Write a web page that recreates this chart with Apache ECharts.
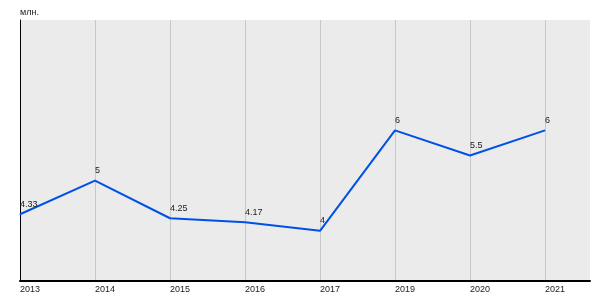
<!DOCTYPE html>
<html><head><meta charset="utf-8">
<script src="https://cdn.jsdelivr.net/npm/echarts@6/dist/echarts.min.js"></script>
<style>html,body{margin:0;padding:0;background:#fff}#c{width:600px;height:300px}</style>
</head><body><div id="c"></div>
<script>
const categories = ['2013','2014','2015','2016','2017','2019','2020','2021'];
const values = [4.33, 5, 4.25, 4.17, 4, 6, 5.5, 6];
const unitLabel = 'млн.';

const chart = echarts.init(document.getElementById('c'), null, {renderer:'canvas'});
const data = values.map((v,i)=>[i,v]);
chart.setOption({
  animation:false,
  textStyle:{fontFamily:'Liberation Sans, Arial, sans-serif'},
  title:{text:unitLabel,left:20,top:8,padding:0,textStyle:{fontSize:9,fontWeight:'normal',color:'#222'}},
  grid:{left:20,right:10,top:20,bottom:19,show:true,backgroundColor:'#ebebeb',borderWidth:0},
  xAxis:{type:'value',min:0,max:7.6,interval:1,
    axisLine:{show:true,onZero:false,lineStyle:{color:'#000',width:2}},
    axisTick:{show:false},splitLine:{show:false},
    axisLabel:{showMaxLabel:false,fontSize:9,color:'#222',align:'left',margin:4,
      formatter:v=>categories[v]!==undefined?categories[v]:''}},
  yAxis:{type:'value',min:3,max:8.2,
    axisLine:{show:true,lineStyle:{color:'#000',width:1}},
    axisTick:{show:false},axisLabel:{show:false},splitLine:{show:false}},
  series:[{type:'line',data:data,showSymbol:true,symbol:'circle',symbolSize:1,
    lineStyle:{color:'#0050e6',width:2},itemStyle:{color:'#0050e6'},
    label:{show:true,position:'top',align:'left',distance:5,fontSize:9,color:'#222',
      formatter:p=>String(p.value[1])},
    markLine:{silent:true,symbol:'none',label:{show:false},
      lineStyle:{color:'#c8c8c8',width:1,type:'solid'},
      data:categories.map((c,i)=>({xAxis:i})),z:0},
    z:3}]
});
</script></body></html>
